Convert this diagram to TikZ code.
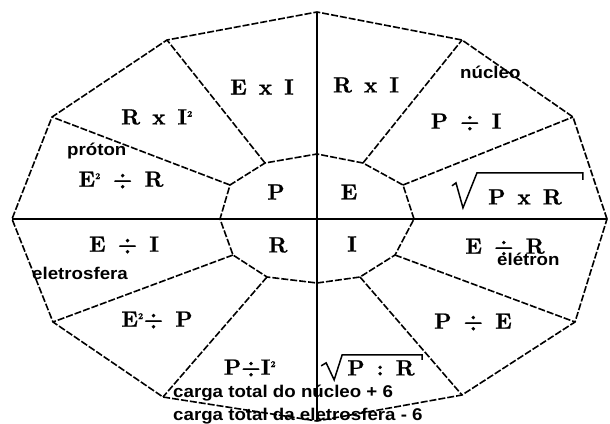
\documentclass[tikz,border=0pt]{standalone}
\usepackage{fontspec}
\newfontfamily\partfont{Liberation Sans}
\newfontfamily\formulafam{lmroman10-bold.otf}[FakeBold=0.8]
\usetikzlibrary{positioning}
\newcommand{\sqd}{\textsuperscript{\fontsize{9}{9}\selectfont 2}}
\newcommand{\formulafont}{\formulafam\fontsize{22}{26}\selectfont\spaceskip=12pt\relax}

\begin{document}
\begin{tikzpicture}[
  x=1pt,y=-1pt,
  rim/.style={line width=1.6pt,dash pattern=on 7pt off 2pt},
  axisline/.style={line width=1.8pt},
  radical/.style={line width=1.5pt,line join=miter},
  formula/.style={font=\formulafont,inner sep=0pt},
  part/.style={font=\partfont\fontsize{17}{20}\selectfont\bfseries,xscale=1.1,anchor=base west,inner sep=0pt},
]
  \useasboundingbox (0,0) rectangle (610,423);

  % outer ring
  \coordinate (o0) at (607,219);  \coordinate (o1) at (573,117);
  \coordinate (o2) at (462,40);   \coordinate (o3) at (317,12);
  \coordinate (o4) at (167,40);   \coordinate (o5) at (52,117);
  \coordinate (o6) at (12,219);   \coordinate (o7) at (53,322);
  \coordinate (o8) at (163,397);  \coordinate (o9) at (317,421);
  \coordinate (o10) at (462,395); \coordinate (o11) at (575,322);
  % inner ring
  \coordinate (i0) at (414,219);  \coordinate (i1) at (403,185);
  \coordinate (i2) at (363,163);  \coordinate (i3) at (317,154);
  \coordinate (i4) at (265,163);  \coordinate (i5) at (230,185);
  \coordinate (i6) at (220,219);  \coordinate (i7) at (233,255);
  \coordinate (i8) at (267,277);  \coordinate (i9) at (317,283);
  \coordinate (i10) at (360,277); \coordinate (i11) at (395,255);

  \draw[rim] (o0) -- (o1) -- (o2) -- (o3) -- (o4) -- (o5) -- (o6)
    -- (o7) -- (o8) -- (o9) -- (o10) -- (o11) -- cycle;
  \draw[rim] (i0) -- (i1) -- (i2) -- (i3) -- (i4) -- (i5) -- (i6)
    -- (i7) -- (i8) -- (i9) -- (i10) -- (i11) -- cycle;
  \foreach \k in {1,2,4,5,7,8,10,11}
    \draw[rim] (i\k) -- (o\k);
  \draw[axisline] (o6) -- (o0);
  \draw[axisline] (o3) -- (o9);

  % centre
  \node[formula] (cP) at (276,192) {P};
  \node[formula] (cE) at (349,192) {E};
  \node[formula] (cR) at (278,245) {R};
  \node[formula] (cI) at (352,244) {I};

  % P
  \node[formula] (pEI) at (262,87) {E x I};
  \node[formula] (pRI) at (157,117) {R x I\sqd};
  \node[formula] (pER) at (121,180) {E\sqd{} ÷ R};
  % E
  \node[formula] (eRI) at (366,85) {R x I};
  \node[formula] (ePI) at (466,122) {P ÷ I};
  \node[formula] (eSq) at (525,197) {P x R};
  \draw[radical] (eSq.south west) ++(-36,-19) -- ++(4,-3) -- ++(7,25)
    -- ++(14,-35) -- ++(106,0) -- ++(0,7);
  % I
  \node[formula] (iER) at (505,247) {E ÷ R};
  \node[formula] (iPE) at (473,322) {P ÷ E};
  \node[formula] (iSq) at (381,368) {P : R};
  \draw[radical] (iSq.south west) ++(-26,-10) -- ++(5,-3) -- ++(8,17)
    -- ++(8,-25) -- ++(80,0) -- ++(0,5);
  % R
  \node[formula] (rPI) at (250,368) {P÷I\sqd};
  \node[formula] (rEP) at (157,320) {E\sqd÷ P};
  \node[formula] (rEI) at (124,245) {E ÷ I};

  % labels
  \node[part] (nucleo) at (460,78) {núcleo};
  \node[part] (proton) at (67,155) {próton};
  \node[part] (eletrosfera) at (32,279) {eletrosfera};
  \node[part] (eletron) at (497,265) {elétron};
  \node[part] (cargaN) at (173,397) {carga total do núcleo + 6};
  \node[part] (cargaE) at (173,420) {carga total da eletrosfera - 6};
\end{tikzpicture}
\end{document}
